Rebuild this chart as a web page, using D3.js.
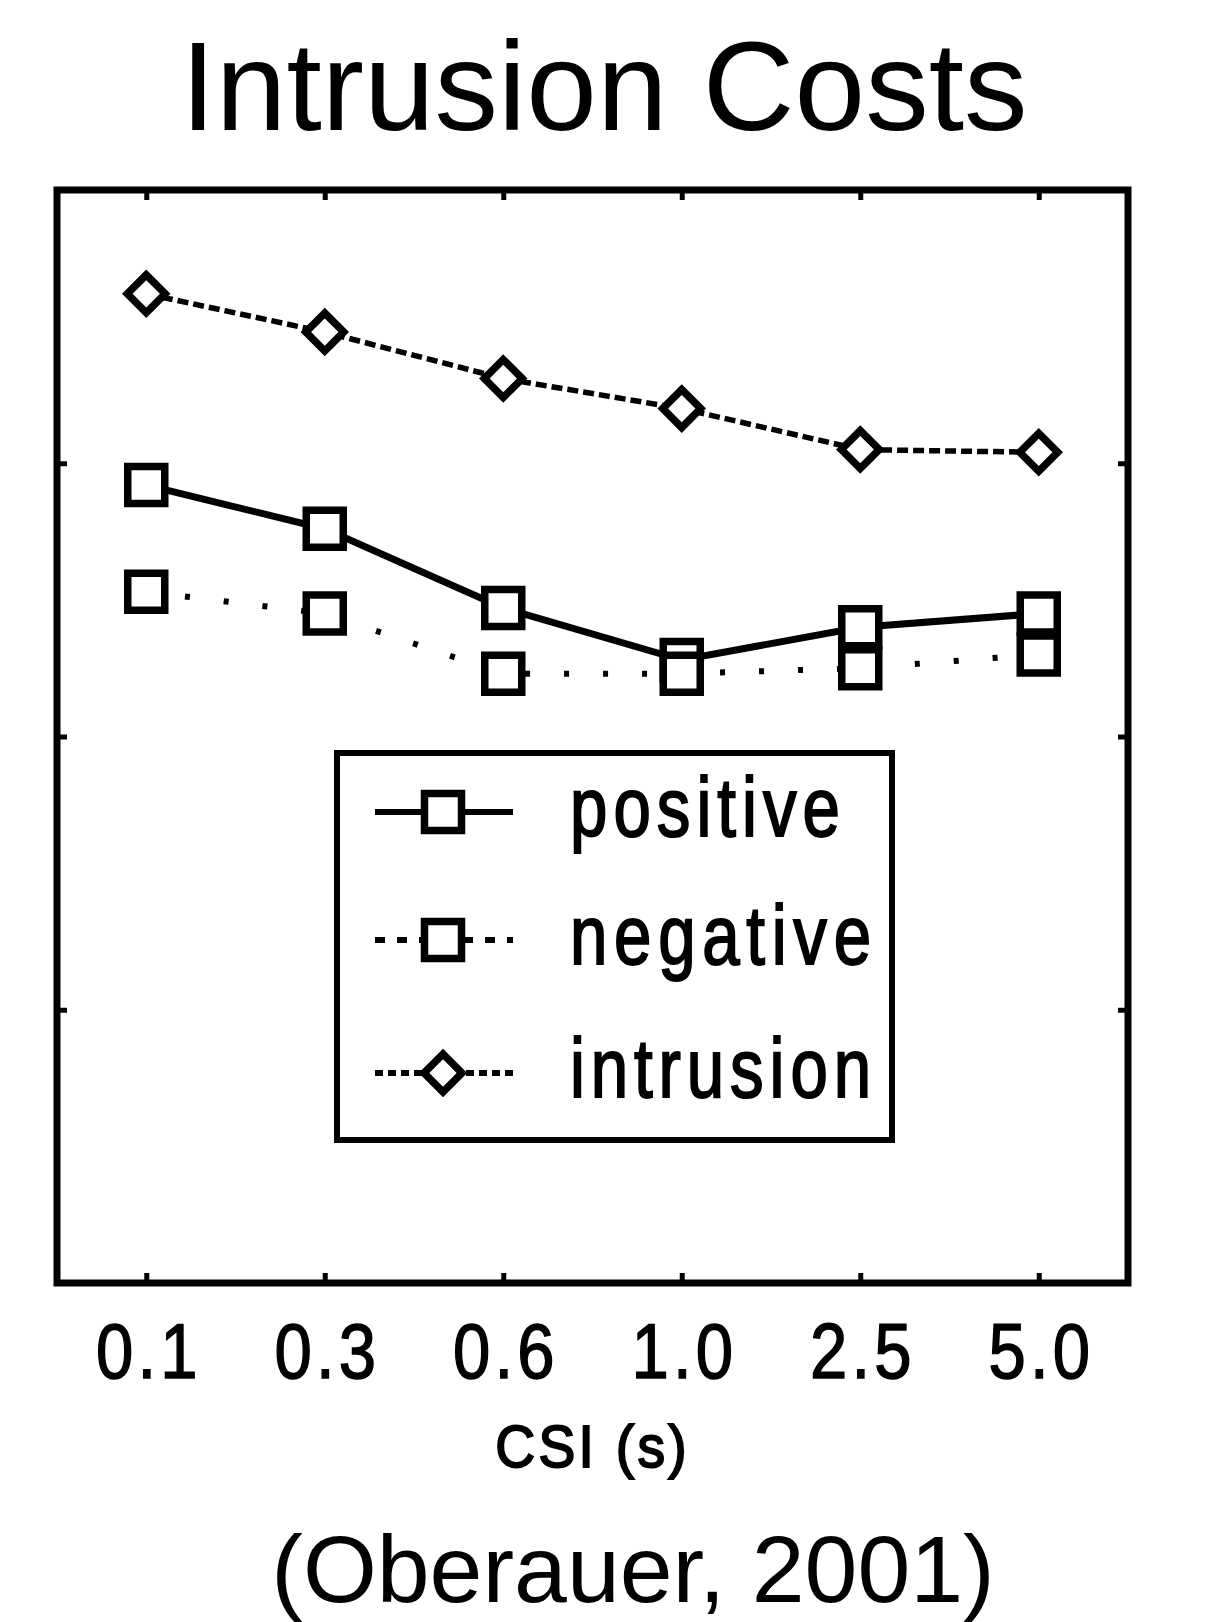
<!DOCTYPE html>
<html>
<head>
<meta charset="utf-8">
<script src="https://cdnjs.cloudflare.com/ajax/libs/d3/7.8.5/d3.min.js"></script>
<style>
  body { margin: 0; background: #fff; }
  text { font-family: "Liberation Sans", Arial, Helvetica, sans-serif; fill: #000; }
</style>
</head>
<body>
<div id="chart"></div>
<script>
// values (y axis has no labels, arbitrary units)
var csiLabels = ["0.1", "0.3", "0.6", "1.0", "2.5", "5.0"];
var positive = [2.92, 2.76, 2.47, 2.28, 2.40, 2.45];
var negative = [2.53, 2.45, 2.23, 2.23, 2.25, 2.30];
var intrusion = [3.62, 3.48, 3.31, 3.20, 3.05, 3.04];
var yTicks = [1, 2, 3];
var legendNames = ["positive", "negative", "intrusion"];

var width = 1218, height = 1622;
var box = { left: 57, top: 190, right: 1128, bottom: 1283 };

var svg = d3.select("#chart").append("svg")
    .attr("width", width)
    .attr("height", height);

var x = d3.scaleLinear().domain([0.5, 6.5]).range([box.left, box.right]);
var y = d3.scaleLinear().domain([0, 4]).range([box.bottom, box.top]);
var idx = csiLabels.map(function (d, i) { return i + 1; });

// title + citation
svg.append("text")
    .attr("x", 604).attr("y", 130)
    .attr("text-anchor", "middle")
    .style("font-size", "127px")
    .text("Intrusion Costs");

svg.append("text")
    .attr("x", 633).attr("y", 1602)
    .attr("text-anchor", "middle")
    .style("font-size", "95px")
    .text("(Oberauer, 2001)");

// axes: inward ticks on all four sides
var bottomAxis = svg.append("g")
    .attr("transform", "translate(0," + box.bottom + ")")
    .call(d3.axisBottom(x).tickValues(idx).tickSize(-10).tickSizeOuter(0)
        .tickFormat(function (d) { return csiLabels[d - 1]; }));
bottomAxis.selectAll("text")
    .attr("y", 95).attr("dy", 0)
    .attr("transform", "scale(0.86,1)")
    .attr("textLength", 118)
    .attr("lengthAdjust", "spacing")
    .style("font-size", "78px")
    .style("stroke", "#000")
    .style("stroke-width", "1.5px");

svg.append("g")
    .attr("transform", "translate(0," + box.top + ")")
    .call(d3.axisTop(x).tickValues(idx).tickSize(-10).tickSizeOuter(0).tickFormat(""));

svg.append("g")
    .attr("transform", "translate(" + box.left + ",0)")
    .call(d3.axisLeft(y).tickValues(yTicks).tickSize(-10).tickSizeOuter(0).tickFormat(""));

svg.append("g")
    .attr("transform", "translate(" + box.right + ",0)")
    .call(d3.axisRight(y).tickValues(yTicks).tickSize(-10).tickSizeOuter(0).tickFormat(""));

svg.selectAll(".domain").remove();
svg.selectAll(".tick line").attr("stroke", "#000").attr("stroke-width", 5);
svg.selectAll(".tick text").attr("fill", "#000").style("font-family", "'Liberation Sans', Arial, sans-serif");

svg.append("rect")
    .attr("x", box.left).attr("y", box.top)
    .attr("width", box.right - box.left)
    .attr("height", box.bottom - box.top)
    .attr("fill", "none")
    .attr("stroke", "#000")
    .attr("stroke-width", 7);

svg.append("text")
    .attr("transform", "translate(591,1467) scale(0.92,1)")
    .attr("text-anchor", "middle")
    .attr("textLength", 208)
    .attr("lengthAdjust", "spacing")
    .style("font-size", "60px")
    .style("stroke", "#000")
    .style("stroke-width", "2px")
    .text("CSI (s)");

// series
var series = [
    { name: "positive", values: positive, dash: null, width: 7, marker: "square" },
    { name: "negative", values: negative, dash: "5,34", width: 6, marker: "square" },
    { name: "intrusion", values: intrusion, dash: "11,5", width: 5.5, marker: "diamond" }
];

var line = d3.line()
    .x(function (d, i) { return x(i + 1); })
    .y(function (d) { return y(d); });

var squareSym = d3.symbol().type(d3.symbolSquare).size(37 * 37);
var diamondSym = d3.symbol().type(d3.symbolSquare).size(720);

function drawMarker(g, type, cx, cy) {
    g.append("path")
        .attr("d", type === "square" ? squareSym() : diamondSym())
        .attr("transform", "translate(" + cx + "," + cy + ")" + (type === "diamond" ? " rotate(45)" : ""))
        .attr("fill", "#fff")
        .attr("stroke", "#000")
        .attr("stroke-width", 7.5);
}

series.forEach(function (s) {
    svg.append("path")
        .datum(s.values)
        .attr("d", line)
        .attr("fill", "none")
        .attr("stroke", "#000")
        .attr("stroke-width", s.width)
        .attr("stroke-dasharray", s.dash);
});

series.forEach(function (s) {
    var g = svg.append("g");
    s.values.forEach(function (v, i) {
        drawMarker(g, s.marker, x(i + 1), y(v));
    });
});

// legend
var legend = svg.append("g");
legend.append("rect")
    .attr("x", 337).attr("y", 753)
    .attr("width", 555).attr("height", 387)
    .attr("fill", "#fff")
    .attr("stroke", "#000")
    .attr("stroke-width", 6);

var legendY = [812, 940, 1073];
var legendDash = [null, "10,12", "8,5"];
var legendLen = [270, 301, 301];

series.forEach(function (s, i) {
    legend.append("line")
        .attr("x1", 375).attr("x2", 513)
        .attr("y1", legendY[i]).attr("y2", legendY[i])
        .attr("stroke", "#000")
        .attr("stroke-width", 6)
        .attr("stroke-dasharray", legendDash[i]);
    drawMarker(legend, s.marker, 443, legendY[i]);
    legend.append("text")
        .attr("transform", "translate(570," + (legendY[i] + 24) + ") scale(0.8,1)")
        .attr("textLength", legendLen[i] / 0.8)
        .attr("lengthAdjust", "spacing")
        .style("font-size", "84px")
        .style("stroke", "#000")
        .style("stroke-width", "2px")
        .text(legendNames[i]);
});
</script>
</body>
</html>
